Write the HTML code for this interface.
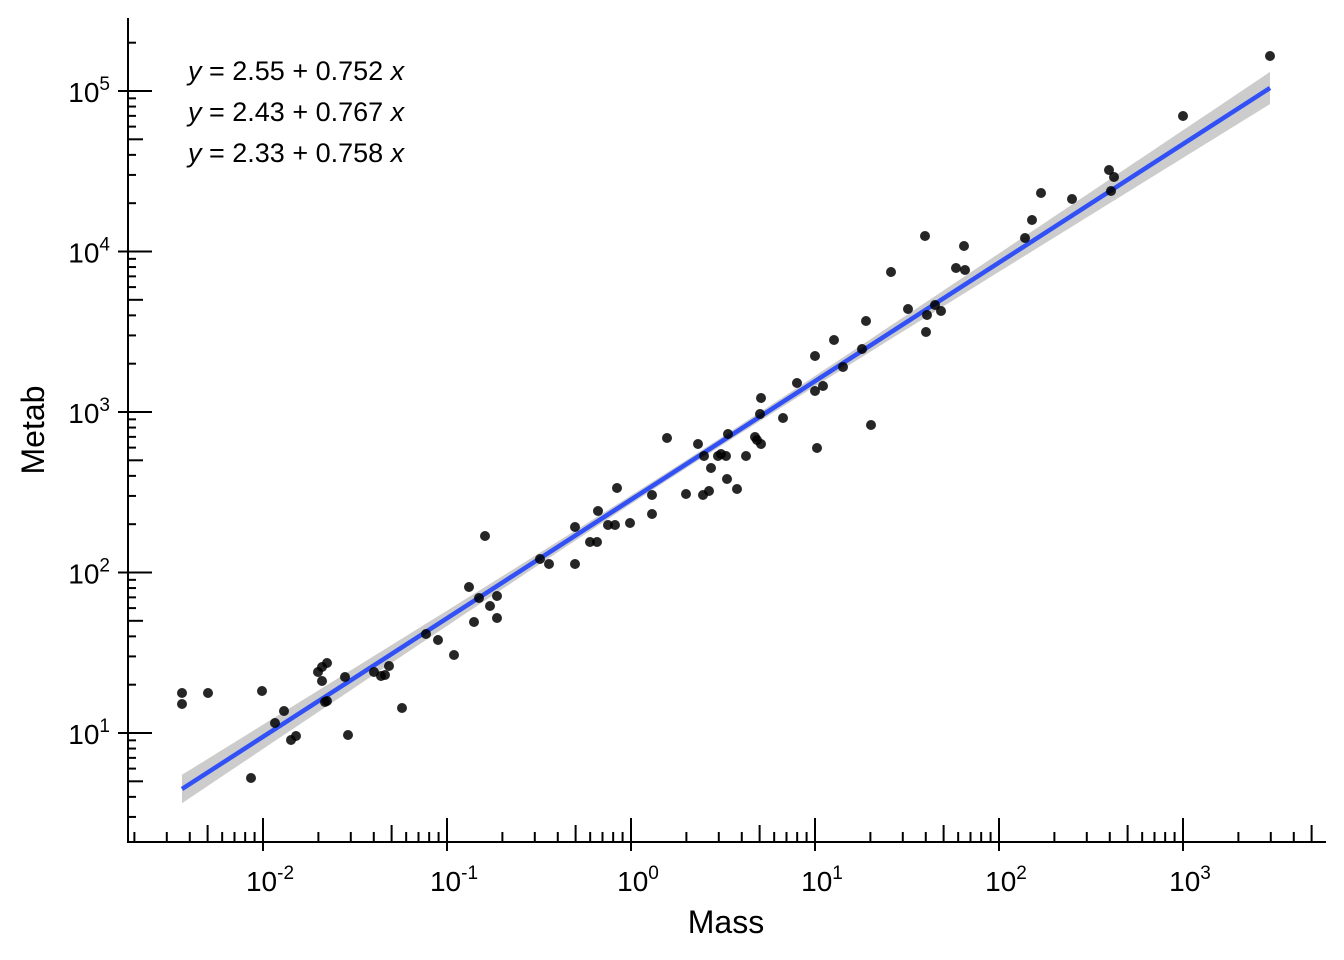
<!DOCTYPE html>
<html><head><meta charset="utf-8"><style>
html,body{margin:0;padding:0;background:#fff;}
svg{display:block;font-family:"Liberation Sans",Arial,sans-serif;}
</style></head><body>
<svg id="s" width="1344" height="960" viewBox="0 0 1344 960" xmlns="http://www.w3.org/2000/svg">
<g id="rib"></g>
<line x1="182" y1="789" x2="1270" y2="88" stroke="#3150f5" stroke-width="4.5"/>
<g id="pts" fill="#000" fill-opacity="0.85"></g>
<g id="ax" stroke="#000" stroke-width="2" fill="none">
<line x1="128" y1="18" x2="128" y2="842"/>
<line x1="127" y1="842" x2="1326" y2="842"/>
</g>
<g font-size="28" fill="#000" text-anchor="end" id="ylab"></g>
<g font-size="28" fill="#000" text-anchor="middle" id="xlab"></g>
<text x="726" y="933" font-size="32" text-anchor="middle">Mass</text>
<text transform="translate(44,430) rotate(-90)" font-size="32" text-anchor="middle">Metab</text>
<g font-size="27" fill="#000">
<text x="188" y="80"><tspan font-style="italic">y</tspan> = 2.55 + 0.752 <tspan font-style="italic">x</tspan></text>
<text x="188" y="121"><tspan font-style="italic">y</tspan> = 2.43 + 0.767 <tspan font-style="italic">x</tspan></text>
<text x="188" y="162"><tspan font-style="italic">y</tspan> = 2.33 + 0.758 <tspan font-style="italic">x</tspan></text>
</g>
</svg>
<script>
var NS="http://www.w3.org/2000/svg";
function el(p,t,a){var e=document.createElementNS(NS,t);for(var k in a)e.setAttribute(k,a[k]);p.appendChild(e);return e;}
var ax=document.getElementById('ax');
function X(l){return 631+184*l;} function Y(l){return 412-160.5*(l-3);}
for(var d=-3;d<=3;d++){for(var m=1;m<=9;m++){var l=d+Math.log10(m);var x=X(l);if(x<129||x>1326)continue;
 if(m==1)el(ax,'line',{x1:x,y1:818,x2:x,y2:851});
 else if(m==5)el(ax,'line',{x1:x,y1:825,x2:x,y2:842});
 else el(ax,'line',{x1:x,y1:832,x2:x,y2:842});}}
for(var d=0;d<=5;d++){for(var m=1;m<=9;m++){var l=d+Math.log10(m);var y=Y(l);if(y<18||y>841)continue;
 if(m==1)el(ax,'line',{x1:118,y1:y,x2:152,y2:y});
 else if(m==5)el(ax,'line',{x1:128,y1:y,x2:143,y2:y});
 else el(ax,'line',{x1:128,y1:y,x2:136,y2:y});}}
var yl=document.getElementById('ylab');
for(var d=1;d<=5;d++){var t=el(yl,'text',{x:110,y:Y(d)+11});t.innerHTML='10<tspan font-size="19" dy="-12">'+d+'</tspan>';}
var xl=document.getElementById('xlab');
for(var d=-2;d<=3;d++){var t=el(xl,'text',{x:X(d)+7,y:891});t.innerHTML='10<tspan font-size="19" dy="-12">'+d+'</tspan>';}
var up=[],lo=[];
for(var x=182;x<=1270;x+=8){var y=789+(88-789)*(x-182)/1088;var dx=x-690;var hw=Math.sqrt(16+0.00072*dx*dx);up.push(x+','+(y-hw));lo.unshift(x+','+(y+hw));}
el(document.getElementById('rib'),'polygon',{points:up.concat(lo).join(' '),fill:'#cccccc'});
var P=[[182,693],[182,704],[208,693],[262,691],[251,778],[275,723],[284,711],[291,740],[296,736],[318,672],[322,667],[327,663],[322,681],[325,702],[327,701],[345,677],[348,735],[374,672],[381,676],[385,675],[389,666],[402,708],[426,634],[438,640],[454,655],[469,587],[474,622],[479,598],[485,536],[490,606],[497,596],[497,618],[540,559],[549,564],[575,527],[575,564],[590,542],[597,542],[598,511],[608,525],[615,525],[617,488],[630,523],[652,495],[652,514],[667,438],[686,494],[698,444],[703,495],[704,456],[709,491],[711,468],[718,456],[721,454],[726,456],[727,479],[728,434],[737,489],[746,456],[755,437],[757,440],[760,414],[761,398],[761,444],[783,418],[797,383],[815,356],[815,391],[817,448],[823,386],[834,340],[843,367],[862,349],[866,321],[871,425],[891,272],[908,309],[925,236],[926,332],[927,315],[935,305],[941,311],[956,268],[964,246],[965,270],[1025,238],[1032,220],[1041,193],[1072,199],[1109,170],[1111,191],[1114,177],[1183,116],[1270,56]];
var pg=document.getElementById('pts');
P.forEach(function(p){el(pg,'circle',{cx:p[0],cy:p[1],r:5});});
</script>
</body></html>
